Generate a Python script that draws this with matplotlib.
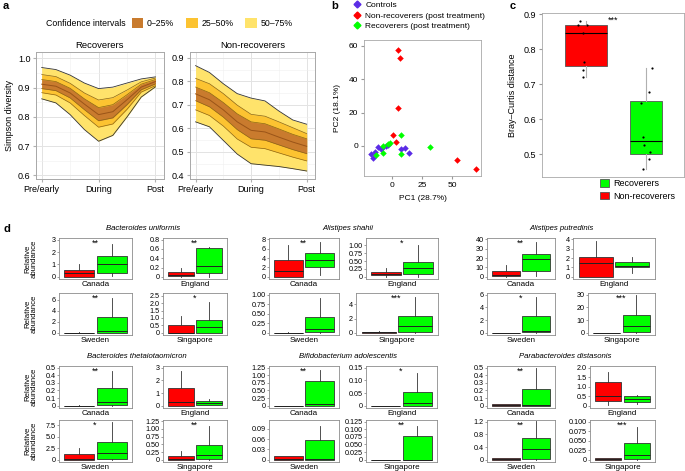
import matplotlib
matplotlib.use("Agg")
import matplotlib.pyplot as plt
from matplotlib.patches import Patch
from matplotlib.lines import Line2D

plt.rcParams['font.family'] = ['Liberation Sans', 'DejaVu Sans']

W, H = 685, 471


def box(l, t, r, b):
    # pixel box -> figure fraction
    return [l / W, 1 - b / H, (r - l) / W, (b - t) / H]


# ---------------- panel a data (Simpson diversity quantile curves)
stages = ['Pre/early', 'During', 'Post']
a_x = [0, 0.25, 0.5, 0.75, 1, 1.25, 1.5, 1.75, 2]

rec_up3 = [0.969, 0.962, 0.943, 0.916, 0.897, 0.902, 0.916, 0.930, 0.937]
rec_up2 = [0.945, 0.938, 0.915, 0.882, 0.858, 0.866, 0.892, 0.920, 0.933]
rec_up1 = [0.928, 0.921, 0.898, 0.862, 0.832, 0.842, 0.876, 0.912, 0.928]
rec_med = [0.912, 0.905, 0.882, 0.844, 0.808, 0.818, 0.859, 0.902, 0.921]
rec_lo1 = [0.897, 0.890, 0.865, 0.825, 0.787, 0.797, 0.842, 0.893, 0.913]
rec_lo2 = [0.883, 0.875, 0.848, 0.805, 0.765, 0.776, 0.826, 0.885, 0.907]
rec_lo3 = [0.862, 0.848, 0.808, 0.757, 0.717, 0.737, 0.800, 0.868, 0.903]

non_up3 = [0.867, 0.838, 0.790, 0.748, 0.729, 0.717, 0.674, 0.636, 0.618]
non_up2 = [0.813, 0.790, 0.748, 0.699, 0.660, 0.652, 0.628, 0.603, 0.578]
non_up1 = [0.776, 0.752, 0.710, 0.662, 0.628, 0.620, 0.598, 0.575, 0.556]
non_med = [0.747, 0.722, 0.679, 0.628, 0.592, 0.585, 0.563, 0.542, 0.524]
non_lo1 = [0.718, 0.692, 0.648, 0.595, 0.556, 0.550, 0.530, 0.510, 0.493]
non_lo2 = [0.679, 0.655, 0.610, 0.555, 0.520, 0.514, 0.496, 0.478, 0.462]
non_lo3 = [0.628, 0.607, 0.549, 0.491, 0.450, 0.444, 0.438, 0.429, 0.419]

ci_labels = ['0–25%', '25–50%', '50–75%']
ci_colors = ['#C97B2E', '#FCC331', '#FFE36B']

# ---------------- panel b data (PCA)
ctrl_pc1 = [-17.5, -15.8, -14.0, -11.0, -9.0, -8.0, -5.0, -3.5, 7.8, 11.0, 13.9]
ctrl_pc2 = [-5.0, -7.5, -3.5, -0.5, -2.0, -1.0, -0.3, 0.5, -1.8, -1.2, -4.3]
nonrec_pc1 = [5.6, 6.9, 5.0, 0.8, 3.3, 54.2, 70.0]
nonrec_pc2 = [57.4, 53.0, 22.8, 6.4, 2.4, -8.6, -14.0]
rec_pc1 = [7.8, -1.4, -2.8, -7.5, -6.9, -13.0, 7.8, 31.4]
rec_pc2 = [6.4, 1.8, 1.0, -0.2, -4.0, -5.6, -5.0, -0.6]

# ---------------- panel c data (Bray-Curtis)
nonrec_bc = [0.880, 0.868, 0.870, 0.846, 0.763, 0.741, 0.720]
nonrec_bc_x = [0.90, 0.87, 1.01, 0.945, 0.967, 0.956, 0.956]
rec_bc = [0.745, 0.677, 0.645, 0.550, 0.527, 0.505, 0.487, 0.458]
rec_bc_x = [2.094, 2.04, 1.917, 1.956, 1.967, 2.067, 2.055, 1.956]

# ---------------- panel d data: (low whisker, q1, median, q3, high whisker)
countries = ['Canada', 'England', 'Sweden', 'Singapore']

uniformis_red = [(0, 0, 0.3, 0.52, 1.05), (0, 0.01, 0.03, 0.11, 0.2),
                 (0, 0, 0.01, 0.05, 0.08), (0, 0, 0.01, 0.52, 1.1)]
uniformis_green = [(0.05, 0.3, 1.0, 1.65, 2.65), (0, 0.08, 0.24, 0.62, 0.65),
                   (0, 0.05, 0.3, 2.8, 6.3), (0, 0.02, 0.38, 0.85, 2.07)]
uniformis_ticks = [[0, 1, 2, 3], [0, 0.2, 0.4, 0.6, 0.8], [0, 2, 4, 6],
                   [0, 0.5, 1, 1.5, 2, 2.5]]
uniformis_top = [3.13, 0.835, 7.2, 2.68]
uniformis_stars = ['**', '**', '**', '*']

shahii_red = [(0, 0, 1.2, 3.5, 6.7), (0, 0.05, 0.09, 0.15, 0.27),
              (0, 0, 0.002, 0.005, 0.01), (0, 0, 0.05, 0.15, 0.25)]
shahii_green = [(0.4, 2.0, 3.5, 5.0, 7.4), (0, 0.1, 0.28, 0.48, 1.02),
                (0, 0.01, 0.1, 0.4, 0.92), (0, 0.15, 1.0, 2.3, 5.1)]
shahii_ticks = [[0, 2, 4, 6, 8], [0, 0.25, 0.5, 0.75, 1.0],
                [0, 0.25, 0.5, 0.75, 1.0], [0, 2, 4]]
shahii_top = [8.28, 1.23, 1.04, 5.6]
shahii_stars = ['**', '*', '', '***']

putredinis_red = [(0, 0.5, 2.0, 6.5, 12.5), (0, 0.02, 1.5, 2.1, 3.85),
                  (0, 0, 0.01, 0.02, 0.03), (0, 0, 0.05, 0.1, 0.2)]
putredinis_green = [(0.5, 6.0, 19.5, 24.0, 37.0), (0.45, 1.05, 1.15, 1.6, 2.1),
                    (0, 0.05, 0.25, 2.6, 5.6), (0, 1.0, 5.5, 14.0, 29.5)]
putredinis_ticks = [[0, 10, 20, 30, 40], [0, 1, 2, 3, 4], [0, 2, 4, 6],
                    [0, 10, 20, 30]]
putredinis_top = [41.4, 4.14, 6.26, 31.3]
putredinis_stars = ['**', '', '*', '***']

theta_red = [(0, 0, 0.001, 0.004, 0.006), (0, 0, 0.3, 1.4, 2.7),
             (0, 0, 0.2, 1.2, 2.5), (0, 0, 0.03, 0.13, 0.3)]
theta_green = [(0, 0.015, 0.055, 0.23, 0.45), (0.05, 0.1, 0.25, 0.38, 0.5),
               (0, 0.1, 1.5, 3.9, 8.2), (0, 0.03, 0.16, 0.47, 1.1)]
theta_ticks = [[0, 0.1, 0.2, 0.3, 0.4, 0.5], [0, 1, 2, 3], [0, 2.5, 5.0, 7.5],
               [0, 0.25, 0.5, 0.75, 1.0, 1.25]]
theta_top = [0.52, 3.13, 8.7, 1.29]
theta_stars = ['**', '', '*', '**']

bifido_red = [(0, 0, 0.001, 0.003, 0.005), (0, 0, 0.0005, 0.001, 0.001),
              (0, 0, 0.001, 0.01, 0.01), (0, 0, 0.0005, 0.001, 0.001)]
bifido_green = [(0, 0, 0.05, 0.8, 1.17), (0, 0, 0.012, 0.056, 0.13),
                (0, 0, 0.001, 0.057, 0.098), (0, 0, 0.001, 0.078, 0.109)]
bifido_ticks = [[0, 0.25, 0.5, 0.75, 1.0, 1.25], [0, 0.05, 0.1, 0.15],
                [0, 0.03, 0.06, 0.09], [0, 0.025, 0.05, 0.075, 0.1, 0.125]]
bifido_top = [1.3, 0.156, 0.115, 0.13]
bifido_stars = ['**', '*', '', '**']

para_red = [(0, 0, 0.005, 0.02, 0.03), (0.05, 0.25, 0.5, 1.22, 1.78),
            (0, 0, 0.01, 0.05, 0.05), (0, 0, 0.001, 0.004, 0.004)]
para_green = [(0, 0, 0.01, 0.22, 0.49), (0.1, 0.22, 0.33, 0.5, 0.56),
              (0, 0.04, 0.33, 0.7, 1.22), (0, 0.003, 0.012, 0.044, 0.087)]
para_ticks = [[0, 0.1, 0.2, 0.3, 0.4, 0.5], [0, 0.5, 1.0, 1.5, 2.0],
              [0, 0.4, 0.8, 1.2], [0, 0.025, 0.05, 0.075, 0.1]]
para_top = [0.52, 2.08, 1.25, 0.104]
para_stars = ['**', '', '**', '***']

RED = '#FF0000'
GREEN = '#00FF00'
BLUE = '#5B2CE6'
SPINE = '#8C8C8C'

fig = plt.figure(figsize=(6.85, 4.71), dpi=100)

# ======================= panel a
fig.text(3 / W, 1 - 6 / H, 'a', fontsize=8, fontweight='bold', va='center')
fig.text(46 / W, 1 - 23 / H, 'Confidence intervals', fontsize=6.3, va='center')
ci_handles = [Patch(facecolor=c, edgecolor='none') for c in ci_colors]
fig.legend(ci_handles, ci_labels, ncol=3, loc='center left',
           bbox_to_anchor=(132 / W, 1 - 23 / H), frameon=False, fontsize=6.3,
           handlelength=1.3, handleheight=1.3, columnspacing=1.4,
           handletextpad=0.4, borderaxespad=0, borderpad=0)

a_panels = [
    ((36, 164), 'Recoverers', (rec_lo3, rec_lo2, rec_lo1, rec_med, rec_up1, rec_up2, rec_up3),
     (0.588, 1.022), [0.6, 0.7, 0.8, 0.9, 1.0], ['0.6', '0.7', '0.8', '0.9', '1.0']),
    ((190, 315), 'Non-recoverers', (non_lo3, non_lo2, non_lo1, non_med, non_up1, non_up2, non_up3),
     (0.385, 0.925), [0.4, 0.5, 0.6, 0.7, 0.8, 0.9], ['0.4', '0.5', '0.6', '0.7', '0.8', '0.9']),
]
for (l, r), title, curves, ylim, yt, ytl in a_panels:
    lo3, lo2, lo1, med, up1, up2, up3 = curves
    ax = fig.add_axes(box(l, 52, r, 179))
    ax.set_axisbelow(True)
    ax.fill_between(a_x, lo3, up3, color=ci_colors[2], lw=0, zorder=2)
    ax.fill_between(a_x, lo2, up2, color=ci_colors[1], lw=0, zorder=2)
    ax.fill_between(a_x, lo1, up1, color=ci_colors[0], lw=0, zorder=2)
    for c in (lo2, lo1, up1, up2):
        ax.plot(a_x, c, color='#8A6416', lw=0.5, zorder=3)
    ax.plot(a_x, med, color='#9A5418', lw=0.7, zorder=3)
    ax.plot(a_x, lo3, color='#333333', lw=0.6, zorder=3)
    ax.plot(a_x, up3, color='#333333', lw=0.6, zorder=3)
    ax.set_xlim(-0.1, 2.15)
    ax.set_ylim(*ylim)
    ax.set_xticks([0, 1, 2], stages)
    ax.set_xticks([0.5, 1.5], minor=True)
    ax.set_yticks(yt, ytl)
    ax.set_yticks([v + 0.05 for v in yt[:-1]], minor=True)
    ax.grid(which='major', color='#E3E3E3', lw=0.7)
    ax.grid(which='minor', color='#EFEFEF', lw=0.4)
    ax.tick_params(which='both', labelsize=6.5, length=2, color='#B0B0B0', pad=2)
    ax.tick_params(which='minor', length=0)
    for s in ax.spines.values():
        s.set_color('#A8A8A8')
        s.set_linewidth(0.7)
    ax.set_title(title, fontsize=6.8, pad=3)
    if l < 100:
        ax.set_ylabel('Simpson diversity', fontsize=6.5, labelpad=3)

# ======================= panel b
fig.text(331 / W, 1 - 6 / H, 'b', fontsize=8, fontweight='bold', va='center')
axb = fig.add_axes(box(364, 40, 481, 176))
axb.scatter(ctrl_pc1, ctrl_pc2, marker='D', s=11, color=BLUE, lw=0, zorder=3)
axb.scatter(nonrec_pc1, nonrec_pc2, marker='D', s=11, color=RED, lw=0, zorder=3)
axb.scatter(rec_pc1, rec_pc2, marker='D', s=11, color=GREEN, lw=0, zorder=3)
axb.set_xlim(-23, 74)
axb.set_ylim(-18, 63.5)
axb.set_xticks([0, 25, 50])
axb.set_yticks([0, 20, 40, 60])
axb.tick_params(labelsize=6, length=2, color='#999999', pad=2)
for s in axb.spines.values():
    s.set_color('#A8A8A8')
    s.set_linewidth(0.6)
axb.set_xlabel('PC1 (28.7%)', fontsize=6, labelpad=5)
axb.set_ylabel('PC2 (18.1%)', fontsize=6, labelpad=6)
b_handles = [Line2D([], [], marker='D', ms=3.5, lw=0, color=c) for c in (BLUE, RED, GREEN)]
fig.legend(b_handles, ['Controls', 'Non-recoverers (post treatment)', 'Recoverers (post treatment)'],
           loc='upper left', bbox_to_anchor=(353 / W, 1 - 1 / H), frameon=False,
           fontsize=6, handlelength=1.0, handletextpad=0.5, labelspacing=0.35,
           borderaxespad=0, borderpad=0)

# ======================= panel c
fig.text(510 / W, 1 - 6 / H, 'c', fontsize=8, fontweight='bold', va='center')
axc = fig.add_axes(box(542, 13, 684, 177))
bpc = axc.boxplot([nonrec_bc, rec_bc], positions=[1, 2], widths=[0.7, 0.53],
                  patch_artist=True, showcaps=False, showfliers=False,
                  medianprops=dict(color='black', lw=0.8),
                  whiskerprops=dict(color='#B0B0B0', lw=0.8),
                  boxprops=dict(edgecolor='#555555', lw=0.6))
for patch, c in zip(bpc['boxes'], (RED, GREEN)):
    patch.set_facecolor(c)
axc.scatter(nonrec_bc_x, nonrec_bc, s=2.5, color='black', zorder=4, lw=0)
axc.scatter(rec_bc_x, rec_bc, s=2.5, color='black', zorder=4, lw=0)
axc.text(1.37, 0.881, '***', fontsize=6.5, ha='left', va='center')
axc.set_xlim(0.27, 2.63)
axc.set_ylim(0.435, 0.903)
axc.set_xticks([])
axc.set_yticks([0.5, 0.6, 0.7, 0.8, 0.9])
axc.tick_params(labelsize=6.5, length=2, color='#999999', pad=2)
for s in axc.spines.values():
    s.set_color('#A8A8A8')
    s.set_linewidth(0.6)
axc.set_ylabel('Bray–Curtis distance', fontsize=6.5, labelpad=5)
c_handles = [Patch(facecolor=GREEN, edgecolor='#555555', lw=0.6),
             Patch(facecolor=RED, edgecolor='#555555', lw=0.6)]
fig.legend(c_handles, ['Recoverers', 'Non-recoverers'], loc='upper left',
           bbox_to_anchor=(600 / W, 1 - 179 / H), frameon=False, fontsize=6.5,
           handlelength=1.0, handleheight=0.9, handletextpad=0.5,
           labelspacing=0.4, borderaxespad=0, borderpad=0)

# ======================= panel d
fig.text(3 / W, 1 - 229 / H, 'd', fontsize=8, fontweight='bold', va='center')

species = [
    ('Bacteroides uniformis', uniformis_red, uniformis_green, uniformis_ticks, uniformis_top, uniformis_stars),
    ('Alistipes shahii', shahii_red, shahii_green, shahii_ticks, shahii_top, shahii_stars),
    ('Alistipes putredinis', putredinis_red, putredinis_green, putredinis_ticks, putredinis_top, putredinis_stars),
    ('Bacteroides thetaiotaomicron', theta_red, theta_green, theta_ticks, theta_top, theta_stars),
    ('Bifidobacterium adolescentis', bifido_red, bifido_green, bifido_ticks, bifido_top, bifido_stars),
    ('Parabacteroides distasonis', para_red, para_green, para_ticks, para_top, para_stars),
]

# layout in pixels
left_cols = [(59, 132), (269, 339), (487, 555)]
right_cols = [[(163, 227), (163, 227)], [(366, 438), (356, 438)], [(573, 655), (588, 655)],
              [(163, 227), (163, 227)], [(366, 437), (366, 437)], [(590, 655), (590, 655)]]
row_ys = [[(238, 279), (293, 335)], [(366, 408), (420, 462)]]
title_xy = [(143, 229), (348, 229), (562, 229), (137, 357), (348, 357), (565, 357)]


def tick_text(ticks):
    dec = max(len(f'{t:g}'.split('.')[1]) if '.' in f'{t:g}' else 0 for t in ticks)
    return ['0' if t == 0 else f'{t:.{dec}f}' for t in ticks]


for si, (name, reds, greens, ticks, tops, stars) in enumerate(species):
    g = si % 3
    srow = si // 3
    tx, ty = title_xy[si]
    fig.text(tx / W, 1 - ty / H, name, fontsize=5.6, style='italic',
             ha='center', va='center')
    for ci, country in enumerate(countries):
        sub_r, sub_c = ci // 2, ci % 2
        l, r = left_cols[g] if sub_c == 0 else right_cols[si][sub_r]
        t, b = row_ys[srow][sub_r]
        ax = fig.add_axes(box(l, t, r, b))
        stats = []
        for st in (reds[ci], greens[ci]):
            lo, q1, md, q3, hi = st
            stats.append(dict(whislo=lo, q1=q1, med=md, q3=q3, whishi=hi))
        bp = ax.bxp(stats, positions=[1, 2], widths=0.92, patch_artist=True,
                    showcaps=False, showfliers=False,
                    medianprops=dict(color='#222222', lw=0.7),
                    whiskerprops=dict(color='#333333', lw=0.6),
                    boxprops=dict(edgecolor='#333333', lw=0.6))
        for patch, c in zip(bp['boxes'], (RED, GREEN)):
            patch.set_facecolor(c)
        top = tops[ci]
        ax.set_ylim(-0.055 * top, top)
        ax.set_xlim(0.38, 2.62)
        ax.set_xticks([])
        ax.set_yticks(ticks[ci], tick_text(ticks[ci]))
        ax.tick_params(labelsize=5.2, length=1.5, width=0.4, pad=1, color='#555555')
        for s in ax.spines.values():
            s.set_color(SPINE)
            s.set_linewidth(0.6)
        ax.set_xlabel(country, fontsize=5.8, labelpad=1.5)
        if stars[ci]:
            ax.text(1.48, top * 0.86, stars[ci], fontsize=6.5, ha='center', va='center')
        if g == 0 and sub_c == 0:
            fig.text(31 / W, 1 - (t + b) / 2 / H, 'Relative\nabundance', fontsize=5.6,
                     rotation=90, ha='center', va='center', linespacing=1.0)

fig.savefig('out.png', dpi=100)
